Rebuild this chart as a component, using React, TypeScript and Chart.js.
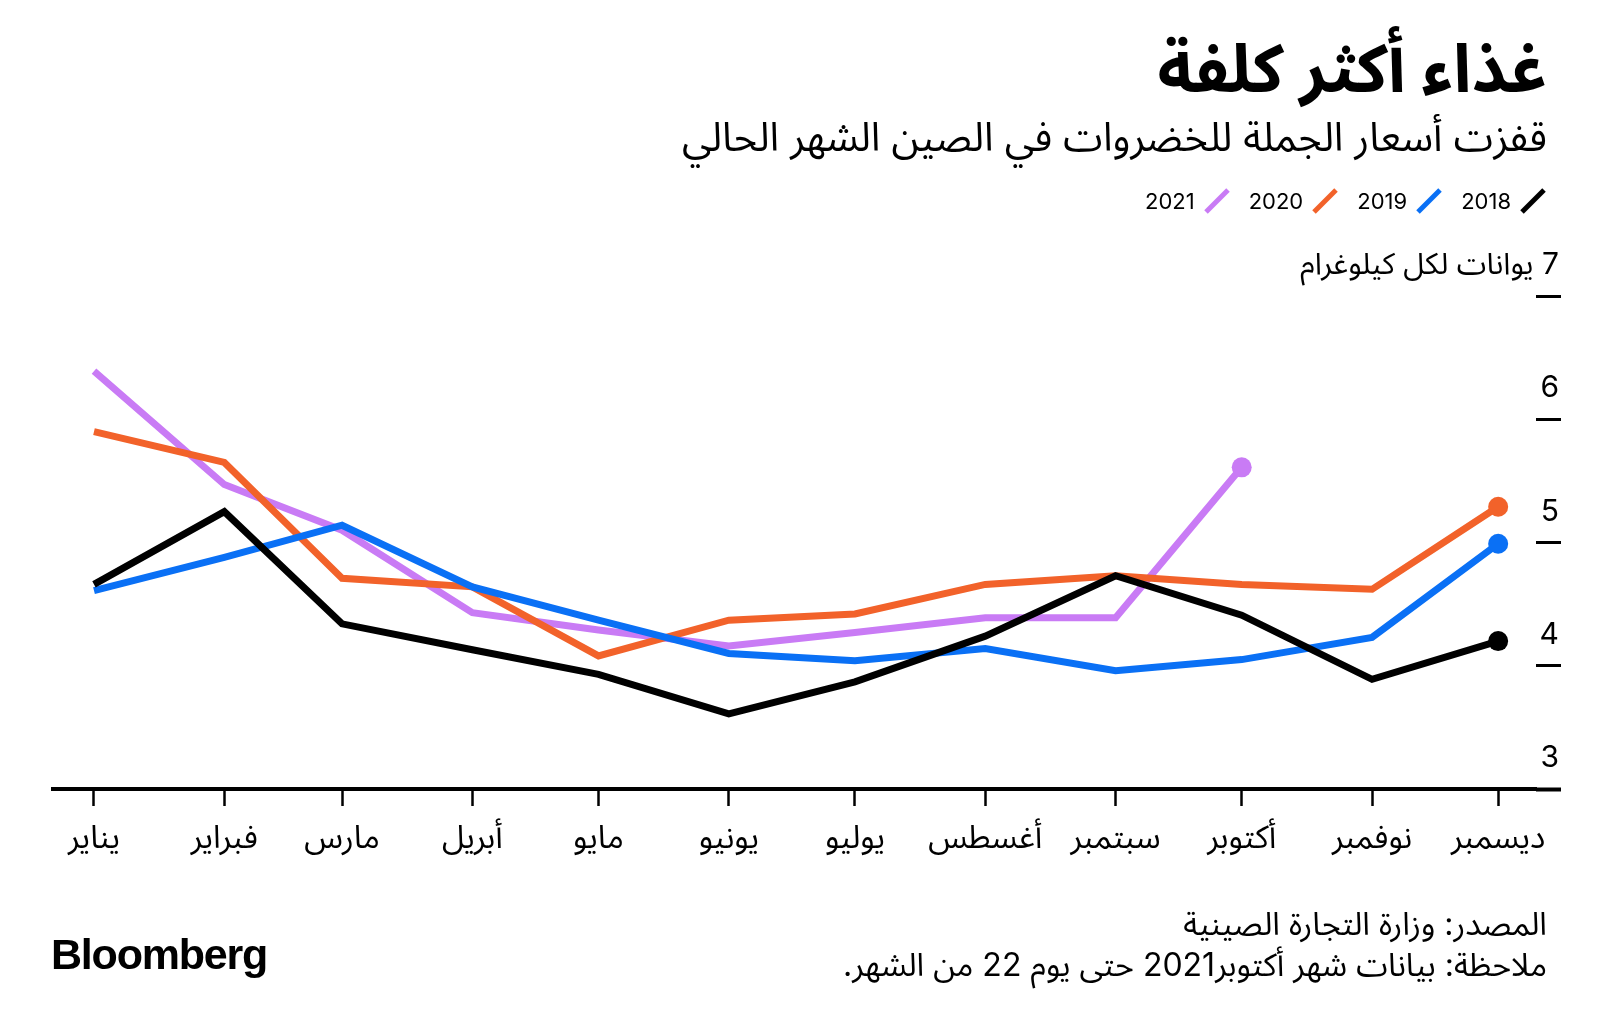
import React, { useEffect, useRef } from "react";
import { Chart, registerables } from "chart.js";

Chart.register(...registerables);

const monthNames = ["يناير", "فبراير", "مارس", "أبريل", "مايو", "يونيو", "يوليو", "أغسطس", "سبتمبر", "أكتوبر", "نوفمبر", "ديسمبر"];
// day of year on which each month starts
const monthStarts = [0, 31, 59, 90, 120, 151, 181, 212, 243, 273, 304, 334];

const years = ["2018", "2019", "2020", "2021"];
const colors = ["#000000", "#0a70f5", "#f2622a", "#c97bf5"];

const values2018 = [4.66, 5.25, 4.34, 4.13, 3.93, 3.61, 3.87, 4.24, 4.73, 4.41, 3.89, 4.2];
const values2019 = [4.61, 4.88, 5.14, 4.64, 4.37, 4.1, 4.04, 4.14, 3.96, 4.05, 4.23, 4.99];
const values2020 = [5.9, 5.65, 4.71, 4.64, 4.08, 4.37, 4.42, 4.66, 4.73, 4.66, 4.62, 5.29];
const values2021 = [6.39, 5.47, 5.1, 4.43, 4.29, 4.16, 4.27, 4.39, 4.39, 5.61];

const yTicks = [3, 4, 5, 6, 7];
const unitLabel = "7 يوانات لكل كيلوغرام";

const FONT = "Inter, 'Noto Sans Arabic', 'DejaVu Sans', sans-serif";

function ChartCanvas() {
  const ref = useRef<HTMLCanvasElement | null>(null);
  useEffect(() => {
    if (!ref.current) return;
    const series = [values2018, values2019, values2020, values2021];
    const chart = new Chart(ref.current, {
      type: "line",
      data: {
        datasets: series.map((vals, i) => ({
          label: years[i],
          data: vals.map((v, j) => ({ x: monthStarts[j], y: v })),
          borderColor: colors[i],
          backgroundColor: colors[i],
          borderWidth: 7,
          tension: 0,
          pointRadius: (c: any) => (c.dataIndex === vals.length - 1 ? 10 : 0),
          pointBorderWidth: 0,
          pointBackgroundColor: colors[i],
          clip: false as any,
        })),
      },
      options: {
        animation: false,
        responsive: false,
        devicePixelRatio: 1,
        layout: { padding: { left: 53, right: 39, top: 296, bottom: 163 } },
        plugins: { legend: { display: false }, tooltip: { enabled: false } },
        scales: {
          x: {
            type: "linear",
            min: -9.75,
            max: 343,
            afterBuildTicks: (s: any) => {
              s.ticks = monthStarts.map((v) => ({ value: v }));
            },
            afterFit: (s: any) => {
              s.height = 80;
            },
            grid: {
              drawOnChartArea: false,
              drawTicks: true,
              tickLength: 17,
              tickWidth: 2.5,
              tickColor: "#000",
            },
            border: { display: true, color: "#000", width: 4 },
            ticks: {
              autoSkip: false,
              maxRotation: 0,
              padding: 13,
              color: "#000",
              font: { family: FONT, size: 32 },
              callback: (v: any) => monthNames[monthStarts.indexOf(Number(v))] ?? "",
            },
          },
          y: {
            type: "linear",
            position: "right",
            min: 3,
            max: 7,
            afterBuildTicks: (s: any) => {
              s.ticks = yTicks.map((v) => ({ value: v }));
            },
            afterFit: (s: any) => {
              s.width = 25;
            },
            grid: {
              drawOnChartArea: false,
              drawTicks: true,
              tickLength: 25,
              tickWidth: (c: any) => (c.tick && c.tick.value === 3 ? 4 : 3),
              tickColor: "#000",
            },
            border: { display: false },
            ticks: {
              mirror: true,
              padding: 23,
              labelOffset: -31,
              color: "#000",
              font: { family: FONT, size: 30 },
              callback: (v: any) => (Number(v) === 7 ? unitLabel : String(v)),
            },
          },
        },
      },
    });
    return () => chart.destroy();
  }, []);
  return (
    <canvas
      ref={ref}
      width={1600}
      height={1032}
      dir="rtl"
      style={{ position: "absolute", left: 0, top: 0, width: 1600, height: 1032, direction: "rtl" }}
    />
  );
}

function Slash({ color }: { color: string }) {
  return (
    <svg width={28} height={28} style={{ display: "block" }}>
      <line x1={3} y1={25} x2={25} y2={3} stroke={color} strokeWidth={5} />
    </svg>
  );
}

export default function App() {
  return (
    <div
      style={{
        position: "absolute",
        left: 0,
        top: 0,
        width: 1600,
        height: 1032,
        background: "#fff",
        fontFamily: FONT,
        color: "#000",
        overflow: "hidden",
      }}
    >
      <ChartCanvas />
      <div
        dir="rtl"
        style={{ position: "absolute", right: 53, top: 24, fontSize: 67, fontWeight: 700, lineHeight: "88px", whiteSpace: "nowrap" }}
      >
        غذاء أكثر كلفة
      </div>
      <div
        dir="rtl"
        style={{ position: "absolute", right: 53, top: 110, fontSize: 40, lineHeight: "54px", whiteSpace: "nowrap" }}
      >
        قفزت أسعار الجملة للخضروات في الصين الشهر الحالي
      </div>
      <div
        dir="rtl"
        style={{ position: "absolute", right: 53, top: 187, height: 28, display: "flex", alignItems: "center", gap: 18 }}
      >
        {years.map((y, i) => (
          <div key={y} style={{ display: "flex", alignItems: "center", gap: 8 }}>
            <Slash color={colors[i]} />
            <span style={{ fontSize: 22, lineHeight: "28px" }}>{y}</span>
          </div>
        ))}
      </div>
      <div
        dir="rtl"
        style={{ position: "absolute", right: 53, top: 903, fontSize: 32, lineHeight: "41px", whiteSpace: "nowrap" }}
      >
        <div>المصدر: وزارة التجارة الصينية</div>
        <div>ملاحظة: بيانات شهر أكتوبر2021 حتى يوم 22 من الشهر.</div>
      </div>
      <div
        style={{
          position: "absolute",
          left: 51,
          top: 930,
          fontFamily: "'Liberation Sans', Arial, sans-serif",
          fontWeight: 700,
          fontSize: 43,
          letterSpacing: -1.2,
          lineHeight: "48px",
        }}
      >
        Bloomberg
      </div>
    </div>
  );
}
